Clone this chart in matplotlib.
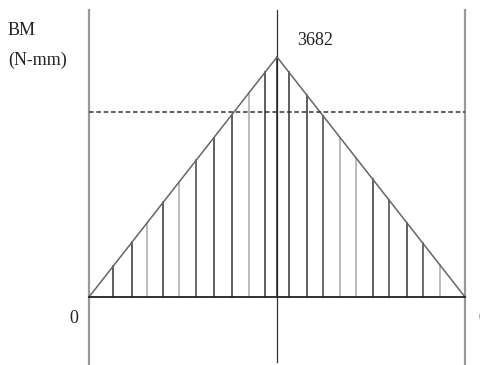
import matplotlib.pyplot as plt

# Bending moment diagram, simply supported beam with central load
span = 1.0
peak_moment = 3682          # N-mm, at mid span
allow_moment = 2840         # dashed reference level
hatch_x = [0.064, 0.114, 0.154, 0.197, 0.239, 0.285, 0.332, 0.380, 0.426, 0.468,
           0.5, 0.532, 0.580, 0.622, 0.668, 0.710, 0.755, 0.798, 0.846, 0.888, 0.934]
# rendering shade of each hatch line (the scan shows some lighter than others)
hatch_shade = ["#333", "#333", "#aaa", "#333", "#aaa", "#444", "#333", "#333", "#aaa", "#333",
               "#222", "#333", "#333", "#444", "#aaa", "#aaa", "#333", "#444", "#333", "#444", "#aaa"]

def moment(x):
    return peak_moment * (1 - abs(x - span / 2) / (span / 2))

fig = plt.figure(figsize=(4.8, 3.65), dpi=100)
ax = fig.add_axes([0, 0, 1, 1])
ax.set_xlim(-0.2367, 1.0399)
ax.set_ylim(-1043, 4557)
ax.axis("off")

top = 4403
# supports and centre line
ax.plot([0, 0], [-1043, top], color="#999", lw=1.6)
ax.plot([span, span], [-1043, top], color="#999", lw=1.6)
ax.plot([span / 2, span / 2], [-1000, top], color="#333", lw=0.9)

# hatching
for x, c in zip(hatch_x, hatch_shade):
    ax.plot([x, x], [0, moment(x)], color=c, lw=1.1)

# triangle outline
ax.plot([0, span / 2, span], [0, peak_moment, 0], color="#666", lw=1.1)
ax.plot([0, span], [0, 0], color="#222", lw=1.3)

# dashed level
ax.plot([0, span], [allow_moment, allow_moment], color="#333", lw=1.1,
        dashes=(3, 1.8))

font = dict(family="Liberation Serif", fontsize=13, color="#222")
ax.text(0.601, 3943, str(peak_moment), ha="center", va="center", **font)
ax.text(-0.2154, 4096, "BM", ha="left", va="center", **font)
ax.text(-0.2154, 3636, "(N-mm)", ha="left", va="center", **font)
ax.text(-0.040, -322, "0", ha="center", va="center", **font)
ax.text(1.0346, -322, "0", ha="left", va="center", **font)

fig.savefig("out.png", dpi=100)
